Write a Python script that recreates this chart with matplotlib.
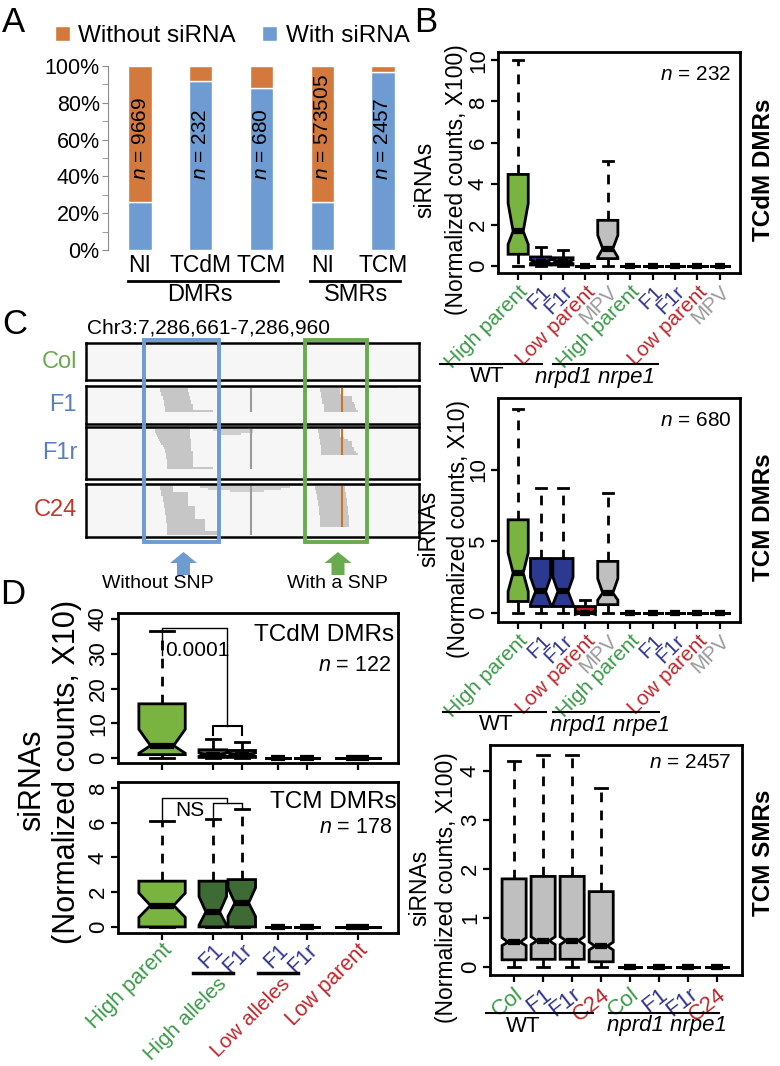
import matplotlib.pyplot as plt
from matplotlib.patches import Rectangle, FancyArrow
import numpy as np

plt.rcParams['font.family'] = 'Liberation Sans'
plt.rcParams['mathtext.fontset'] = 'custom'
plt.rcParams['mathtext.rm'] = 'Liberation Sans'
plt.rcParams['mathtext.it'] = 'Liberation Sans:italic'

# colours
ORANGE = '#D4793D'
BLUE_A = '#6E9BD2'
GREEN_TXT = '#3A9A48'
NAVY_TXT = '#30338F'
RED_TXT = '#C0272D'
GRAY_TXT = '#9B9B9B'
LGREEN = '#79B340'
DGREEN = '#3E6A33'
NAVY_BOX = '#2B3990'
RED_BOX = '#BE1E2D'
GRAY_BOX = '#BFBFBF'

# ---------------- panel A data
a_cats = ['NI', 'TCdM', 'TCM', 'NI', 'TCM']
a_with = [26, 92, 88, 26, 97]
a_n = ['9669', '232', '680', '573505', '2457']

# ---------------- panel B data (top: TCdM DMRs, X100)
b1_labels = ['High parent', 'F1', 'F1r', 'Low parent', 'MPV'] * 2
b1_lab_col = [GREEN_TXT, NAVY_TXT, NAVY_TXT, RED_TXT, GRAY_TXT] * 2
b1_fill = [LGREEN, NAVY_BOX, NAVY_BOX, RED_BOX, GRAY_BOX] * 2
b1_whislo = [0, 0, 0, 0, 0, 0, 0, 0, 0, 0]
b1_q1 = [0.57, 0.05, 0.05, 0, 0.36, 0, 0, 0, 0, 0]
b1_med = [1.69, 0.2, 0.2, 0, 0.84, 0, 0, 0, 0, 0]
b1_q3 = [4.45, 0.44, 0.40, 0, 2.22, 0, 0, 0, 0, 0]
b1_whishi = [10.0, 0.93, 0.8, 0, 5.1, 0, 0, 0, 0, 0]
b1_cilo = [1.05, 0.12, 0.12, 0, 0.42, 0, 0, 0, 0, 0]
b1_cihi = [3.05, 0.3, 0.3, 0, 1.5, 0, 0, 0, 0, 0]

# middle: TCM DMRs, X10
b2_whislo = [0, 0, 0, 0, 0, 0, 0, 0, 0, 0]
b2_q1 = [0.8, 0.45, 0.45, 0, 0.58, 0, 0, 0, 0, 0]
b2_med = [2.8, 1.5, 1.5, 0, 1.4, 0, 0, 0, 0, 0]
b2_q3 = [6.5, 3.8, 3.8, 0.45, 3.6, 0, 0, 0, 0, 0]
b2_whishi = [14.2, 8.7, 8.7, 0.9, 8.4, 0, 0, 0, 0, 0]
b2_cilo = [1.5, 0.6, 0.6, -0.1, 0.9, 0, 0, 0, 0, 0]
b2_cihi = [4.2, 2.5, 2.5, 0.15, 2.4, 0, 0, 0, 0, 0]

# bottom: TCM SMRs, X100
b3_labels = ['Col', 'F1', 'F1r', 'C24'] * 2
b3_lab_col = [GREEN_TXT, NAVY_TXT, NAVY_TXT, RED_TXT] * 2
b3_whislo = [0, 0, 0, 0, 0, 0, 0, 0]
b3_q1 = [0.15, 0.16, 0.16, 0.11, 0, 0, 0, 0]
b3_med = [0.51, 0.54, 0.54, 0.43, 0, 0, 0, 0]
b3_q3 = [1.8, 1.85, 1.85, 1.54, 0, 0, 0, 0]
b3_whishi = [4.2, 4.33, 4.33, 3.65, 0, 0, 0, 0]
b3_cilo = [0.44, 0.46, 0.46, 0.35, 0, 0, 0, 0]
b3_cihi = [0.6, 0.62, 0.62, 0.51, 0, 0, 0, 0]

# ---------------- panel C data (read piles, bp offset from 7,286,661)
c_tracks = ['Col', 'F1', 'F1r', 'C24']
c_track_col = ['#6AAB4F', '#5A7EC0', '#5A7EC0', '#C0392B']
c_rows = [18, 19, 26, 26]
f1_loose = ([0, 0], [31, 256], [196, 280])
f1_c1_left = [67, 67, 68, 68, 69, 69, 70, 70, 70, 71, 71, 71]
f1_c1_right = [92, 92, 93, 93, 94, 94, 95, 95, 96, 96, 96, 114]
f1_c2_left = [211, 211, 212, 212, 212, 213, 213, 213, 214, 214, 214, 214]
f1_c2_right = [229, 229, 229, 230, 240, 240, 240, 241, 242, 242, 243, 245]
f1r_loose = ([0, 1, 2, 3], [31, 114, 118, 120], [196, 150, 150, 140])
f1r_c1_left = [62, 62, 63, 64, 65, 66, 67, 68, 69, 70, 71, 71, 72, 72, 72, 73, 73, 73, 73, 73]
f1r_c1_right = [94, 94, 94, 94, 94, 95, 95, 95, 95, 95, 95, 96, 96, 96, 96, 96, 96, 96, 96, 114]
f1r_c2_left = [209, 209, 210, 210, 210, 211, 211, 211, 212, 212, 212, 212, 212]
f1r_c2_right = [229, 229, 229, 229, 232, 236, 240, 240, 240, 241, 241, 243, 245]
c24_loose = ([0, 0, 1, 2, 3], [2, 222, 103, 110, 130], [196, 283, 184, 176, 160])
c24_c1_left = [67, 67, 68, 68, 68, 69, 69, 69, 70, 70, 70, 71, 71, 71, 72, 72, 72, 72, 73, 73, 73, 73, 73, 73]
c24_c1_right = [78, 78, 78, 92, 92, 92, 92, 92, 92, 92, 98, 98, 98, 98, 98, 98, 107, 107, 107, 107, 107, 107, 119, 119]
c24_c2_left = [206, 206, 207, 207, 208, 208, 208, 209, 209, 209, 210, 210, 210, 210, 211, 211, 211, 211, 211, 211]
c24_c2_right = [233, 233, 233, 234, 234, 234, 235, 235, 235, 235, 236, 236, 236, 236, 237, 237, 237, 237, 237, 237]
c_insert_bp = 149
c_snp_bp = 231

# ---------------- panel D data (X10)
d_pos = [1, 2.75, 3.75, 5, 6, 7.75]
d_widths = [1.6, 0.95, 0.95, 0.9, 0.9, 1.6]
d_labels = ['High parent', 'F1', 'F1r', 'F1', 'F1r', 'Low parent']
d_lab_col = [GREEN_TXT, NAVY_TXT, NAVY_TXT, NAVY_TXT, NAVY_TXT, RED_TXT]
d_fill = [LGREEN, DGREEN, DGREEN, DGREEN, DGREEN, DGREEN]
d1_whislo = [0, 0, 0, 0, 0, 0]
d1_q1 = [1.0, 0.2, 0.2, 0, 0, 0]
d1_med = [3.6, 1.0, 1.0, 0, 0, 0]
d1_q3 = [15.6, 2.4, 2.2, 0, 0, 0]
d1_whishi = [36.4, 5.5, 4.6, 0, 0, 0]
d1_cilo = [1.4, 0.5, 0.5, 0, 0, 0]
d1_cihi = [8.3, 1.5, 1.5, 0, 0, 0]
d2_whislo = [0, 0, 0, 0, 0, 0]
d2_q1 = [0, 0, 0, 0, 0, 0]
d2_med = [1.23, 0.86, 1.38, 0, 0, 0]
d2_q3 = [2.63, 2.63, 2.72, 0, 0, 0]
d2_whishi = [6.1, 6.18, 6.76, 0, 0, 0]
d2_cilo = [0.55, 0.1, 0.6, 0, 0, 0]
d2_cihi = [1.95, 1.75, 2.25, 0, 0, 0]

W, H = 780, 1066
fig = plt.figure(figsize=(W / 100, H / 100), dpi=100)


def px_axes(x0, y0, x1, y1, **kw):
    return fig.add_axes([x0 / W, 1 - y1 / H, (x1 - x0) / W, (y1 - y0) / H], **kw)


def draw_boxes(ax, pos, widths, whislo, q1, med, q3, whishi, cilo, cihi, fills, tsize=16):
    stats = [dict(whislo=a, q1=b, med=c, q3=d, whishi=e, cilo=f, cihi=g, fliers=[])
             for a, b, c, d, e, f, g in zip(whislo, q1, med, q3, whishi, cilo, cihi)]
    bp = ax.bxp(stats, positions=pos, widths=widths, shownotches=True, showfliers=False,
                patch_artist=True, manage_ticks=False,
                boxprops=dict(linewidth=2, edgecolor='black'),
                whiskerprops=dict(linewidth=2, linestyle=(0, (3.5, 3))),
                capprops=dict(linewidth=2),
                medianprops=dict(linewidth=4.5, color='black', solid_capstyle='butt'))
    for patch, c in zip(bp['boxes'], fills):
        patch.set_facecolor(c)
    for s in ax.spines.values():
        s.set_linewidth(2)
    ax.tick_params(direction='out', length=5, width=1.6, labelsize=tsize, pad=1.5)


def rot_y(ax):
    for t in ax.get_yticklabels():
        t.set_rotation(90)
        t.set_va('center')


def color_xlabels(ax, labels, colors, rot, size):
    ax.set_xticklabels(labels, rotation=rot, ha='right', rotation_mode='anchor', fontsize=size)
    for t, c in zip(ax.get_xticklabels(), colors):
        t.set_color(c)


# ================= Panel A
axA = px_axes(108, 66, 400, 250)
xa = np.arange(len(a_cats))
a_without = [100 - v for v in a_with]
hw = axA.bar(xa, a_with, width=0.38, color=BLUE_A, edgecolor='white', linewidth=1, label='With siRNA')
hwo = axA.bar(xa, a_without, bottom=a_with, width=0.38, color=ORANGE, edgecolor='white',
              linewidth=1, label='Without siRNA')
for x, n in zip(xa, a_n):
    axA.text(x, 38, f'$n$ = {n}', rotation=90, ha='center', va='bottom', fontsize=15)
axA.set_xlim(-0.527, 4.28)
axA.set_ylim(0, 100)
axA.set_yticks(range(0, 101, 20), [f'{v}%' for v in range(0, 101, 20)])
axA.set_yticks(range(10, 100, 20), minor=True)
axA.set_xticks(xa, a_cats)
axA.tick_params(axis='x', length=0, labelsize=16.5, pad=3)
axA.tick_params(axis='y', which='both', length=4, color='#8C8C8C', labelsize=15.5, pad=2)
for s in ['top', 'right', 'bottom']:
    axA.spines[s].set_visible(False)
axA.spines['left'].set_color('#8C8C8C')
axA.legend([hwo, hw], ['Without siRNA', 'With siRNA'], ncol=2, frameon=False, fontsize=17.5,
           loc='center left', bbox_to_anchor=(55 / W, 1 - 36 / H), bbox_transform=fig.transFigure,
           borderpad=0, borderaxespad=0, handlelength=0.6, handleheight=0.6,
           handletextpad=0.35, columnspacing=1.1)

# ================= Panel B top
axB1 = px_axes(498, 52, 740, 273)
pos10 = list(range(1, 11))
draw_boxes(axB1, pos10, 0.9, b1_whislo, b1_q1, b1_med, b1_q3, b1_whishi, b1_cilo, b1_cihi, b1_fill)
axB1.set_xlim(0.1, 10.9)
axB1.set_ylim(-0.34, 10.4)
axB1.set_yticks(range(0, 11, 2))
axB1.set_xticks(pos10)
rot_y(axB1)
color_xlabels(axB1, b1_labels, b1_lab_col, 45, 15)

# ================= Panel B middle
axB2 = px_axes(498, 398, 740, 622)
draw_boxes(axB2, pos10, 0.9, b2_whislo, b2_q1, b2_med, b2_q3, b2_whishi, b2_cilo, b2_cihi, b1_fill)
axB2.set_xlim(0.1, 10.9)
axB2.set_ylim(-0.63, 15.0)
axB2.set_yticks([0, 5, 10])
axB2.set_xticks(pos10)
rot_y(axB2)
color_xlabels(axB2, b1_labels, b1_lab_col, 45, 15)

# ================= Panel B bottom
axB3 = px_axes(490, 745, 742, 975)
pos8 = list(range(1, 9))
draw_boxes(axB3, pos8, 0.83, b3_whislo, b3_q1, b3_med, b3_q3, b3_whishi, b3_cilo, b3_cihi,
           [GRAY_BOX] * 8)
axB3.set_xlim(0.17, 8.85)
axB3.set_ylim(-0.16, 4.53)
axB3.set_yticks(range(0, 5))
axB3.set_xticks(pos8)
rot_y(axB3)
color_xlabels(axB3, b3_labels, b3_lab_col, 38, 16)

# ================= Panel C tracks
c_boxes = [(86, 343, 419, 380), (86, 386, 419, 424), (86, 427, 419, 479), (86, 484, 419, 537)]
c_loose = [None, f1_loose, f1r_loose, c24_loose]
c_piles = [[],
           [(f1_c1_left, f1_c1_right), (f1_c2_left, f1_c2_right)],
           [(f1r_c1_left, f1r_c1_right), (f1r_c2_left, f1r_c2_right)],
           [(c24_c1_left, c24_c1_right), (c24_c2_left, c24_c2_right)]]
for i, (bx, nrow) in enumerate(zip(c_boxes, c_rows)):
    ax = px_axes(*bx)
    ax.set_facecolor('#F6F6F6')
    ax.set_xlim(0, 300)
    ax.set_ylim(nrow, 0)
    ax.set_xticks([])
    ax.set_yticks([])
    for s in ax.spines.values():
        s.set_linewidth(1.8)
    if c_loose[i] is not None:
        rows, st, en = c_loose[i]
        ax.barh(np.array(rows) + 0.5, np.array(en) - np.array(st), left=st, height=0.7,
                color='#CFCFCF', linewidth=0)
    last = 0
    for left, right in c_piles[i]:
        rows = np.arange(1, len(left) + 1)
        ax.barh(rows + 0.5, np.array(right) - np.array(left), left=left, height=1.0,
                color='#C6C6C6', linewidth=0)
        last = max(last, len(left))
    if c_piles[i]:
        ax.vlines(c_insert_bp, 1, last + 1, color='#9A9A9A', lw=1.5)
        ax.vlines(c_snp_bp, 1, len(c_piles[i][1][0]) + 1, color='#C8742A', lw=1.5)
    fig.text(77 / W, 1 - (bx[1] + bx[3]) / 2 / H, c_tracks[i], color=c_track_col[i],
             fontsize=17, ha='right', va='center')

# ================= Panel D
axD1 = px_axes(118, 613, 398, 763)
draw_boxes(axD1, d_pos, d_widths, d1_whislo, d1_q1, d1_med, d1_q3, d1_whishi, d1_cilo, d1_cihi,
           d_fill, tsize=16)
axD1.set_xlim(-0.52, 9.14)
axD1.set_ylim(-1.4, 41.7)
axD1.set_yticks(range(0, 41, 10))
axD1.set_xticks(d_pos)
axD1.tick_params(axis='x', labelbottom=False)
rot_y(axD1)
axD1.plot([1, 1, 3.25, 3.25], [29.5, 37.4, 37.4, 9.1], color='black', lw=1)
axD1.plot([2.75, 2.75, 3.75, 3.75], [6.7, 9.1, 9.1, 6.7], color='black', lw=1.5)
axD1.text(1.12, 31, '0.0001', fontsize=15, ha='left', va='center')
axD1.text(9.0, 35.5, 'TCdM DMRs', fontsize=17.5, ha='right', va='center')
axD1.text(8.9, 26.5, '$n$ = 122', fontsize=15.5, ha='right', va='center')

axD2 = px_axes(118, 782, 398, 933)
draw_boxes(axD2, d_pos, d_widths, d2_whislo, d2_q1, d2_med, d2_q3, d2_whishi, d2_cilo, d2_cihi,
           d_fill, tsize=16)
axD2.set_xlim(-0.52, 9.14)
axD2.set_ylim(-0.35, 8.33)
axD2.set_yticks(range(0, 9, 2))
axD2.set_xticks(d_pos)
axD2.tick_params(axis='x', pad=0)
rot_y(axD2)
color_xlabels(axD2, d_labels, d_lab_col, 45, 15.5)
axD2.plot([1, 1, 3.25, 3.25], [6.18, 7.43, 7.43, 7.14], color='black', lw=1)
axD2.plot([2.75, 2.75, 3.75, 3.75], [6.28, 7.14, 7.14, 6.76], color='black', lw=1)
axD2.text(1.95, 6.7, 'NS', fontsize=15, ha='center', va='center')
axD2.text(9.1, 7.2, 'TCM DMRs', fontsize=17.5, ha='right', va='center')
axD2.text(8.95, 5.7, '$n$ = 178', fontsize=15.5, ha='right', va='center')

# ================= overlay (pixel coordinates) for annotations
ov = fig.add_axes([0, 0, 1, 1], zorder=10)
ov.set_xlim(0, W)
ov.set_ylim(H, 0)
ov.axis('off')

for lab, x, y in [('A', 13, 22), ('B', 426, 22), ('C', 15, 325), ('D', 13, 595)]:
    ov.text(x, y, lab, fontsize=25, ha='center', va='center')

# A group lines
ov.plot([128, 278], [281, 281], color='black', lw=2)
ov.plot([310, 400], [281, 281], color='black', lw=2)
ov.text(200, 295, 'DMRs', fontsize=17, ha='center', va='center')
ov.text(356, 295, 'SMRs', fontsize=17, ha='center', va='center')

# B labels
b_ylab = [(425, 456, 180, 'X100'), (429, 458, 529, 'X10'), (420, 447, 888, 'X100')]
for xs, xn, yc, mult in b_ylab:
    ov.text(xs, yc, 'siRNAs', rotation=90, fontsize=16.5, ha='center', va='center')
    ov.text(xn, yc, f'(Normalized counts, {mult})', rotation=90, fontsize=16.5, ha='center', va='center')
for y, t in [(170, 'TCdM DMRs'), (517, 'TCM DMRs'), (853, 'TCM SMRs')]:
    ov.text(763, y, t, rotation=90, fontsize=17.5, fontweight='bold', ha='center', va='center')
for y, t in [(74, '232'), (420, '680'), (762, '2457')]:
    ov.text(731, y, f'$n$ = {t}', fontsize=15, ha='right', va='center')

b_groups = [(364, 440, 542, 553, 658, 487, 595, 'nrpd1 nrpe1'),
            (712, 443, 546, 553, 659, 496, 610, 'nrpd1 nrpe1'),
            (1013, 486, 593, 609, 719, 523, 667, 'nprd1 nrpe1')]
for y, a0, a1, b0, b1, xw, xm, mt in b_groups:
    ov.plot([a0, a1], [y, y], color='black', lw=1.5)
    ov.plot([b0, b1], [y, y], color='black', lw=1.5)
    ov.text(xw, y + 13, 'WT', fontsize=16, ha='center', va='center')
    ov.text(xm, y + 13, mt, fontsize=16, ha='center', va='center', fontstyle='italic')

# C annotations
ov.text(87, 328, 'Chr3:7,286,661-7,286,960', fontsize=15, ha='left', va='center')
ov.add_patch(Rectangle((144, 340), 75, 202, fill=False, ec='#6E9BD2', lw=2.8))
ov.add_patch(Rectangle((305, 340), 62, 202, fill=False, ec='#6AAB4F', lw=2.8))
ov.add_patch(FancyArrow(183.5, 575, 0, -23, width=13, head_width=27, head_length=11,
                        length_includes_head=True, color='#6E9BD2', lw=0))
ov.add_patch(FancyArrow(338, 575, 0, -23, width=13, head_width=27, head_length=11,
                        length_includes_head=True, color='#6AAB4F', lw=0))
ov.text(158, 584, 'Without SNP', fontsize=14, ha='center', va='center')
ov.text(337, 584, 'With a SNP', fontsize=14, ha='center', va='center')

# D labels
ov.text(32, 780, 'siRNAs', rotation=90, fontsize=22, ha='center', va='center')
ov.text(67, 772, '(Normalized counts, X10)', rotation=90, fontsize=22, ha='center', va='center')
ov.plot([193, 233], [973, 973], color='black', lw=2.5)
ov.plot([258, 298], [973, 973], color='black', lw=2.5)
ov.text(224, 981, 'High alleles', rotation=45, rotation_mode='anchor', ha='right', va='center',
        fontsize=15, color=GREEN_TXT)
ov.text(287, 981, 'Low alleles', rotation=45, rotation_mode='anchor', ha='right', va='center',
        fontsize=15, color=RED_TXT)

fig.savefig('out.png', dpi=100)
